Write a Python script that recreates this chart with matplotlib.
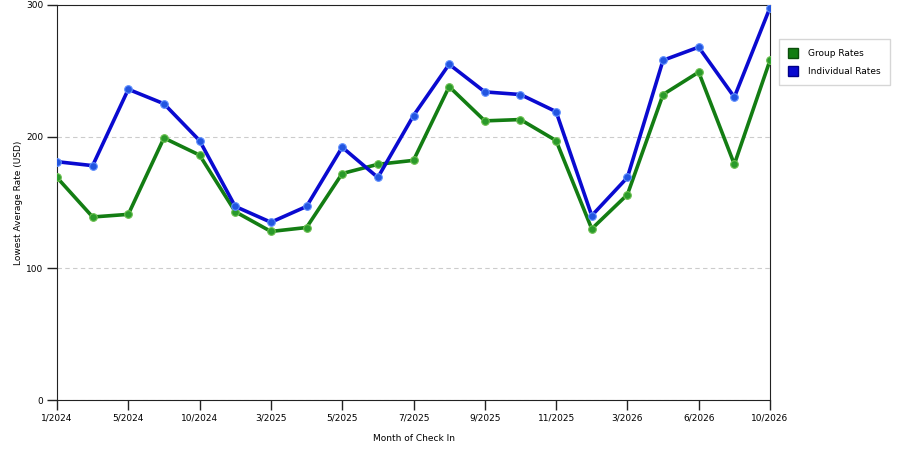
import matplotlib.pyplot as plt
from matplotlib.patches import Patch

months = ['1/2024', '3/2024', '5/2024', '7/2024', '10/2024', '12/2024', '3/2025',
          '4/2025', '5/2025', '6/2025', '7/2025', '8/2025', '9/2025', '10/2025',
          '11/2025', '12/2025', '3/2026', '4/2026', '6/2026', '8/2026', '10/2026']
group_rates = [169, 139, 141, 199, 186, 143, 128, 131, 172, 179, 182, 238, 212, 213,
               197, 130, 156, 232, 249, 179, 258]
individual_rates = [181, 178, 236, 225, 197, 147, 135, 147, 192, 169, 216, 255, 234, 232,
                    219, 140, 169, 258, 268, 230, 298]

green = '#137d13'
blue = '#0a0ad0'

fig = plt.figure(figsize=(9, 4.5), dpi=100)
ax = fig.add_axes([57 / 900, 50 / 450, 713 / 900, 395 / 450])

x = list(range(len(months)))
ax.plot(x, group_rates, color=green, lw=2.6, marker='o', ms=5.5,
        mfc='#2a9a2a', mec='#6bbf4f', mew=0.8, zorder=3)
ax.plot(x, individual_rates, color=blue, lw=2.6, marker='o', ms=5.5,
        mfc='#2255e0', mec='#5f8fff', mew=0.8, zorder=3)

ax.set_xlim(0, len(months) - 1)
ax.set_ylim(0, 300)
ax.set_xticks(x[::2])
ax.set_xticklabels(months[::2])
ax.set_yticks([0, 100, 200, 300])
ax.tick_params(labelsize=6.5, length=7, width=1, color='#222222', pad=3)
ax.grid(axis='y', color='#cccccc', ls=(0, (4, 3)), lw=0.8)
for s in ax.spines.values():
    s.set_color('#222222')

ax.set_xlabel('Month of Check In', fontsize=6.5, labelpad=8)
ax.set_ylabel('Lowest Average Rate (USD)', fontsize=6.5, labelpad=2)

handles = [Patch(facecolor=green, edgecolor='#0b4d0b', label='Group Rates'),
           Patch(facecolor=blue, edgecolor='#000088', label='Individual Rates')]
fig.legend(handles=handles, loc='upper left', bbox_to_anchor=(779 / 900, 1 - 39 / 450),
           borderaxespad=0, fontsize=6.5, frameon=True, fancybox=False,
           edgecolor='#cccccc', handlelength=1.1, handleheight=1.3,
           borderpad=1.0, labelspacing=0.9, handletextpad=1.1)

fig.savefig('out.png')
